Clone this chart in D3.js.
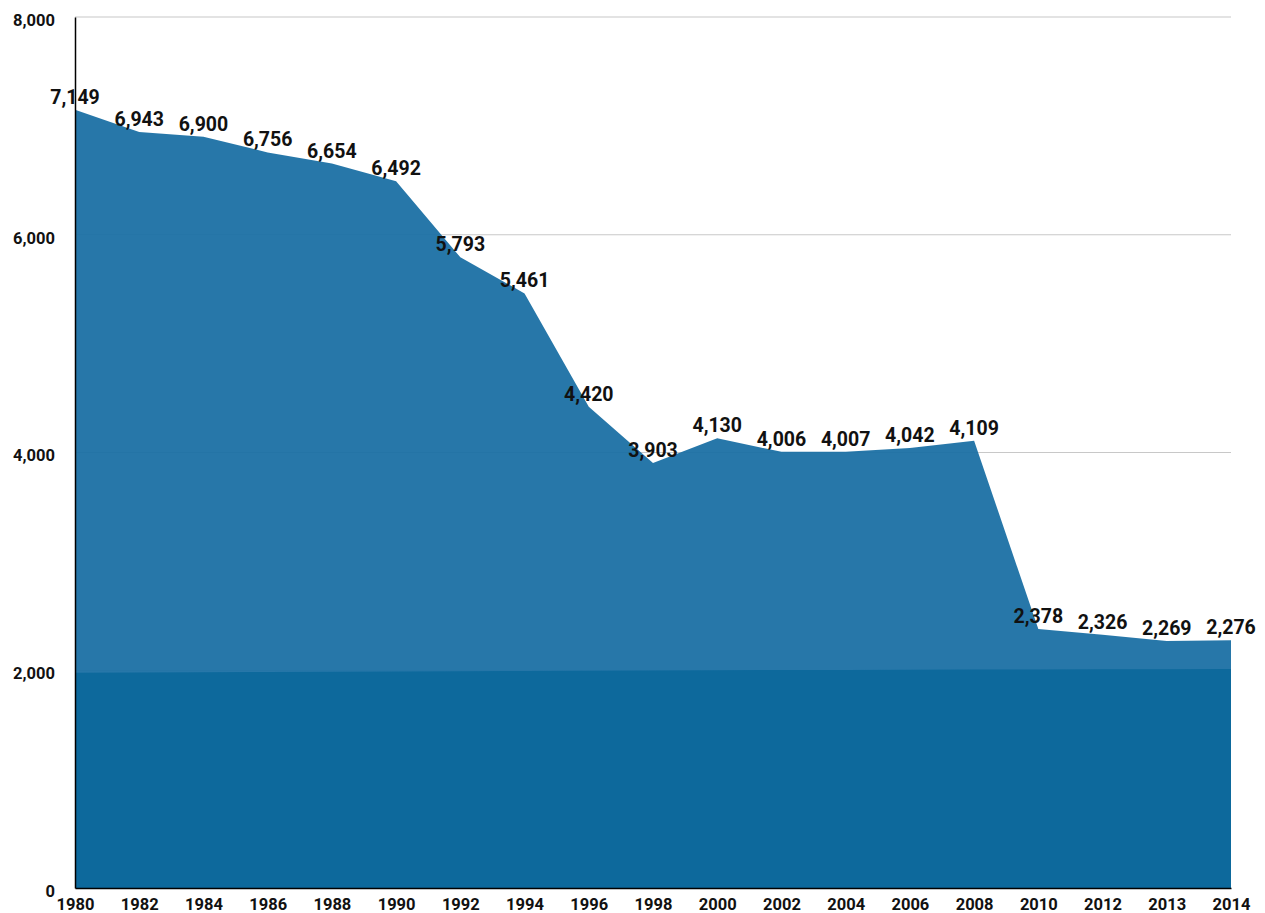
<!DOCTYPE html>
<html>
<head>
<meta charset="utf-8">
<script src="https://cdn.jsdelivr.net/npm/d3@7"></script>
<style>
    body { margin: 0; background: #fff; }
    svg text { font-family: Roboto, "DejaVu Sans", sans-serif; font-weight: 700; fill: #111; }
</style>
</head>
<body>
<div id="chart"></div>
<script>
const years = ['1980', '1982', '1984', '1986', '1988', '1990', '1992', '1994', '1996', '1998',
    '2000', '2002', '2004', '2006', '2008', '2010', '2012', '2013', '2014'];
const totals = [7149, 6943, 6900, 6756, 6654, 6492, 5793, 5461, 4420, 3903,
    4130, 4006, 4007, 4042, 4109, 2378, 2326, 2269, 2276];
const baseline = [1978, 1980, 1982, 1984, 1987, 1989, 1991, 1993, 1996, 1998,
    2000, 2002, 2003, 2005, 2006, 2008, 2009, 2010, 2011];
const yTicks = [0, 2000, 4000, 6000, 8000];

const margin = { top: 17, right: 34, bottom: 25, left: 75 };
const width = 1265 - margin.left - margin.right;
const height = 913 - margin.top - margin.bottom;

const svg = d3.select('#chart').append('svg')
    .attr('width', 1265)
    .attr('height', 913);

const g = svg.append('g')
    .attr('transform', `translate(${margin.left},${margin.top})`);

const x = d3.scalePoint()
    .domain(years)
    .range([0, width]);

const y = d3.scaleLinear()
    .domain([0, 8000])
    .range([height, 0]);

const fmt = d3.format(',');

// Gridlines
g.selectAll('.grid')
    .data(yTicks.filter(d => d > 0))
    .enter()
    .append('line')
    .attr('x1', 0)
    .attr('x2', width)
    .attr('y1', d => y(d))
    .attr('y2', d => y(d))
    .attr('stroke', '#c8c8c8')
    .attr('stroke-width', 1.2);

// Areas
const area = d3.area()
    .x((d, i) => x(years[i]))
    .y0(height)
    .y1(d => y(d));

g.append('path')
    .datum(totals)
    .attr('d', area)
    .attr('fill', '#1b70a4')
    .attr('fill-opacity', 0.95);

g.append('path')
    .datum(baseline)
    .attr('d', area)
    .attr('fill', '#0d699c');

// Y axis
const yAxis = g.append('g')
    .call(d3.axisLeft(y).tickValues(yTicks).tickFormat(fmt).tickSize(0).tickPadding(20));
yAxis.select('.domain').attr('stroke', '#000').attr('stroke-width', 1.5);
yAxis.selectAll('text')
    .attr('font-size', 16.5)
    .attr('dy', '0.5em')
    .attr('fill', '#111');

// X axis
const xAxis = g.append('g')
    .attr('transform', `translate(0,${height})`)
    .call(d3.axisBottom(x).tickSize(0).tickPadding(8));
xAxis.select('.domain').attr('stroke', '#000').attr('stroke-width', 1.5);
xAxis.selectAll('text')
    .attr('font-size', 16.5)
    .attr('dy', '0.85em')
    .attr('fill', '#111');

// Value labels
g.selectAll('.value-label')
    .data(totals)
    .enter()
    .append('text')
    .attr('class', 'value-label')
    .attr('x', (d, i) => x(years[i]))
    .attr('y', d => y(d) - 6)
    .attr('text-anchor', 'middle')
    .attr('font-size', 19.5)
    .text(d => fmt(d));
</script>
</body>
</html>
